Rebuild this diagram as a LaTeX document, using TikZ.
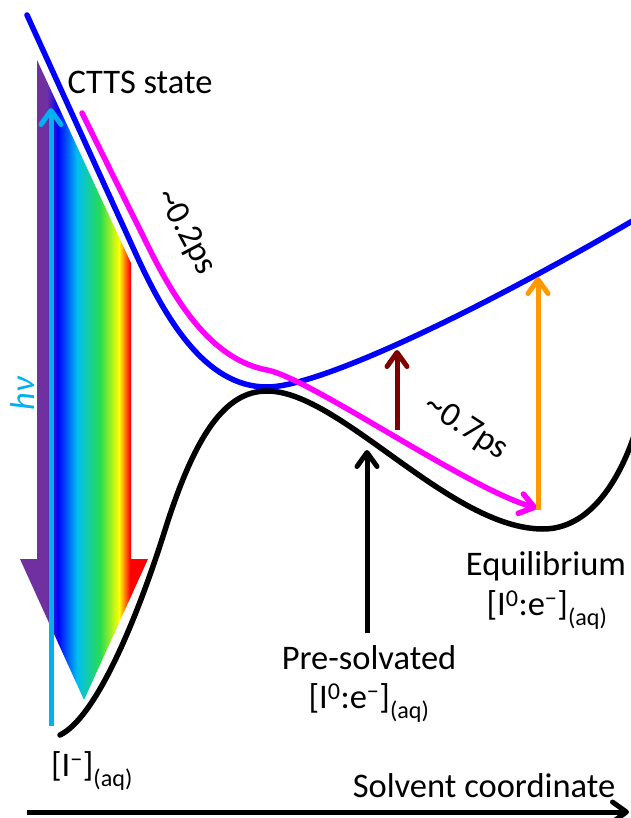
\documentclass[tikz,border=0pt]{standalone}
\usepackage{fontspec}
\setmainfont{Carlito}
\usetikzlibrary{arrows.meta}
\definecolor{cBlue}{RGB}{0,0,255}
\definecolor{cMag}{RGB}{255,0,255}
\definecolor{cCyan}{RGB}{0,176,240}
\definecolor{cDark}{RGB}{128,0,0}
\definecolor{cOrange}{RGB}{255,153,0}
\definecolor{rbPurple}{RGB}{112,48,160}
\definecolor{rbBlue}{RGB}{0,0,255}
\definecolor{rbCyan}{RGB}{0,190,240}
\definecolor{rbGreen}{RGB}{40,220,80}
\definecolor{rbYellow}{RGB}{255,255,0}
\definecolor{rbRed}{RGB}{255,0,0}
\pgfdeclarehorizontalshading{rainbow}{100bp}{color(0bp)=(rbPurple); color(35.5bp)=(rbPurple); color(39.8bp)=(rbBlue); color(47.3bp)=(rbCyan); color(56.3bp)=(rbGreen); color(63.7bp)=(rbYellow); color(68bp)=(rbRed); color(100bp)=(rbRed)}
\tikzset{
  lbl/.style={font=\fontsize{34.5}{40}\selectfont, inner sep=0pt},
  curve/.style={line width=5.5pt, line cap=round, line join=round},
  under/.style={line width=12pt, white, line cap=round, line join=round},
  barb/.style={-{Straight Barb[length=14pt,width=20pt,round]}},
  vup/.style={line width=5pt, barb}
}
\newcommand{\bluepath}{(27,15) -- (135,252) .. controls (165,318) and (205,387) .. (267,387) .. controls (320,387) and (480,310) .. (634,220)}
\newcommand{\blackpath}{(60,735) .. controls (95,718) and (135,625) .. (165,530) .. controls (195,435) and (225,391) .. (267,391) .. controls (340,391) and (450,529) .. (543,529) .. controls (590,529) and (620,480) .. (636,430)}
\begin{document}
\begin{tikzpicture}[x=1pt,y=-1pt]
\useasboundingbox (0,0) rectangle (630,818);
% rainbow arrow
\path[shading=rainbow] (37,60) -- (131,263) -- (131,559) -- (148,559) -- (84,700) -- (20,559) -- (37,559) -- cycle;
% white underlays
\draw[under] \bluepath;
\draw[under] \blackpath;
% blue CTTS curve
\draw[curve, cBlue] \bluepath;
% black ground curve
\draw[curve, black] \blackpath;
% magenta path
\draw[curve, cMag, barb] (82,113) -- (150,250) .. controls (180,310) and (215,360) .. (267,370) .. controls (310,378) and (470,490) .. (537,508);
% vertical arrows
\coordinate (cyB) at (51,726); \coordinate (cyT) at (51,108);
\draw[vup, cCyan, line cap=butt] (cyB) -- (cyT);
\coordinate (drB) at (397,430); \coordinate (drT) at (397,350);
\draw[vup, cDark] (drB) -- (drT);
\coordinate (orB) at (538,510); \coordinate (orT) at (538,277);
\draw[vup, cOrange] (orB) -- (orT);
\coordinate (bkB) at (367,633); \coordinate (bkT) at (367,450);
\draw[vup, black, line cap=butt] (bkB) -- (bkT);
% axis
\coordinate (axL) at (27,812); \coordinate (axR) at (629,812);
\draw[line width=5pt, barb] (axL) -- (axR);
% labels
\node[lbl] (ctts) at (140,82) {CTTS state};
\node[lbl, rotate=-62] (t02) at (186,232) {\textasciitilde 0.2ps};
\node[lbl, rotate=-33] (t07) at (466,428) {\textasciitilde 0.7ps};
\node[lbl, rotate=90, text=cCyan] (hv) at (23,393) {\textit{hν}};
\node[lbl] (eq1) at (546,566) {Equilibrium};
\node[lbl] (eq2) at (547,610) {[I\textsuperscript{0}:e\textsuperscript{−}]\textsubscript{(aq)}};
\node[lbl] (ps1) at (369,658) {Pre-solvated};
\node[lbl] (ps2) at (369,703) {[I\textsuperscript{0}:e\textsuperscript{−}]\textsubscript{(aq)}};
\node[lbl] (im) at (92,771) {[I\textsuperscript{−}]\textsubscript{(aq)}};
\node[lbl] (sc) at (484,786) {Solvent coordinate};
\end{tikzpicture}
\end{document}
